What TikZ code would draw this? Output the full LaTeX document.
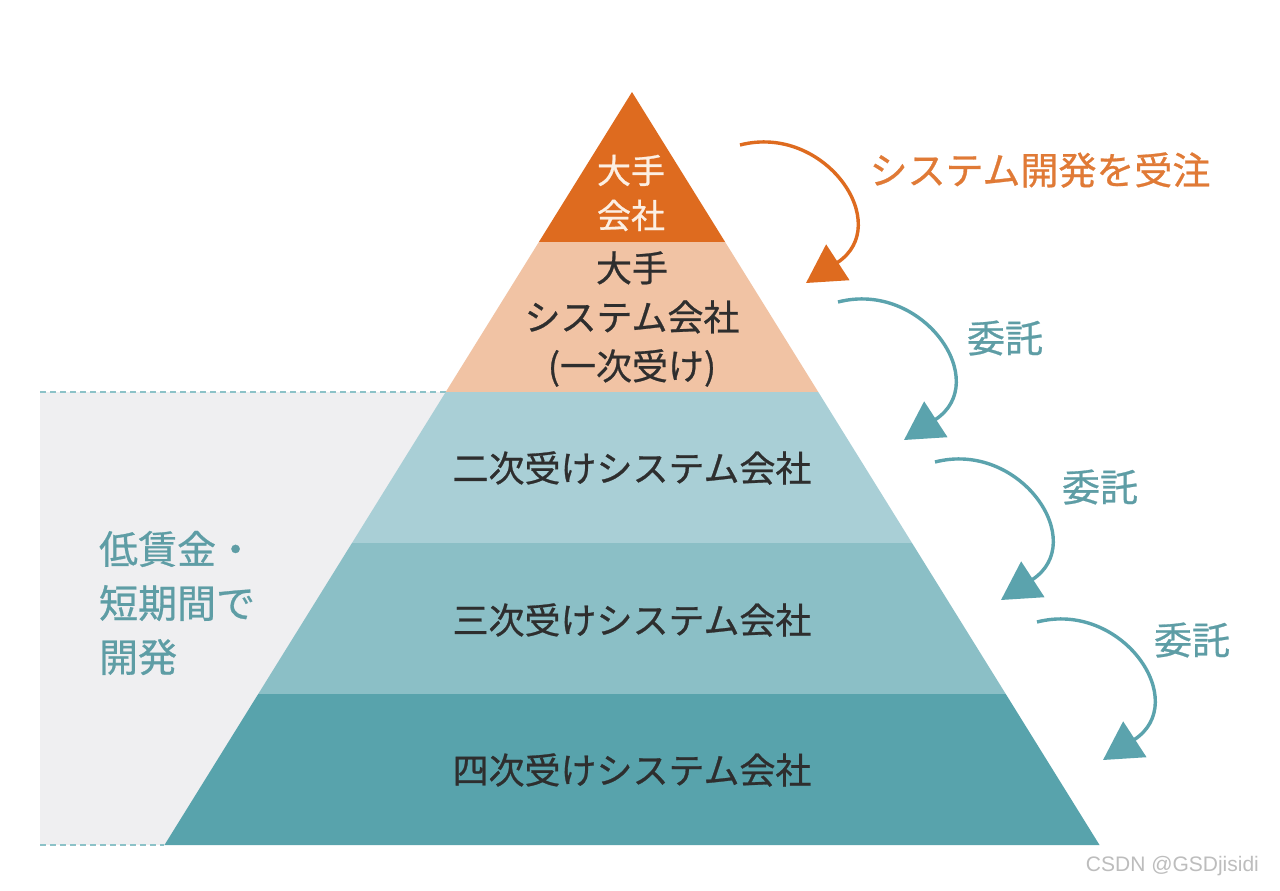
\documentclass[tikz,border=0pt]{standalone}
\usepackage{fontspec}
\setmainfont{Noto Sans CJK JP}[FakeBold=0.7]
\newfontfamily\latinfont{Liberation Sans}
\usetikzlibrary{calc,arrows.meta}
\definecolor{topcorp}{HTML}{DE6B1F}
\definecolor{ordertext}{HTML}{E07A36}
\definecolor{primepeach}{HTML}{F1C3A4}
\definecolor{tiertwo}{HTML}{A9CFD6}
\definecolor{tierthree}{HTML}{8BBFC6}
\definecolor{tierfour}{HTML}{58A3AC}
\definecolor{handteal}{HTML}{5BA3AD}
\definecolor{labelteal}{HTML}{5E9DA5}
\definecolor{panelgrey}{HTML}{EFEFF1}
\definecolor{dotteal}{HTML}{8CC2C8}
\definecolor{inktext}{HTML}{2E2E2E}
\definecolor{topink}{HTML}{FCEFE3}
\definecolor{markgrey}{HTML}{BDBDBD}

\begin{document}
\begin{tikzpicture}[x=0.5pt,y=-0.5pt,
  handoff/.style={line width=1.7pt,-{Triangle[length=19pt,width=21pt]}},
  tierlabel/.style={text=inktext,font=\fontsize{18}{24.5}\selectfont,align=center},
  sidelabel/.style={text=labelteal,font=\fontsize{19}{22}\selectfont}]
  \useasboundingbox (0,0) rectangle (1280,890);
  \fill[white] (0,0) rectangle (1280,890);
  % corner points of the pyramid, one pair per layer border
  \foreach \y [count=\i] in {92,242,392,543,694,845} {
    \coordinate (l\i) at ({632-(\y-92)*0.6209},\y);
    \coordinate (r\i) at ({632+(\y-92)*0.6209},\y);
  }
  % grey band behind the lower three layers
  \fill[panelgrey] (40,392) rectangle (632,845);
  \coordinate (p1) at (40,392); \coordinate (p2) at (40,845);
  \draw[dotteal,line width=1pt,dash pattern=on 3pt off 2pt] (p1) -- (l3) (p2) -- (l6);
  % the layers, top to bottom
  \fill[topcorp] (l1) -- (l2) -- (r2) -- cycle;
  \fill[primepeach] (l2) -- (l3) -- (r3) -- (r2) -- cycle;
  \fill[tiertwo] (l3) -- (l4) -- (r4) -- (r3) -- cycle;
  \fill[tierthree] (l4) -- (l5) -- (r5) -- (r4) -- cycle;
  \fill[tierfour] (l5) -- (l6) -- (r6) -- (r5) -- cycle;
  \node[align=center,text=topink,font=\fontsize{17}{22.5}\selectfont] (major) at (631,193) {大手\\会社};
  \node[tierlabel] (prime) at (632,319) {大手\\システム会社\\(一次受け)};
  \node[tierlabel] (second) at (632,468) {二次受けシステム会社};
  \node[tierlabel] (third) at (632,620) {三次受けシステム会社};
  \node[tierlabel] (fourth) at (632,770) {四次受けシステム会社};
  % hand-off arrows down the right side
  \foreach \n/\x/\y/\c in {1/740/145/topcorp,2/838/302/handteal,3/935/462/handteal,4/1037/622/handteal} {
    \coordinate (s\n) at (\x,\y);
    \coordinate (t\n) at ($(s\n)+(66,138)$);
    \draw[handoff,\c] (s\n) .. controls ($(s\n)+(85,-22)$) and ($(s\n)+(155,80)$) .. (t\n);
  }
  \node[sidelabel,text=ordertext] (order) at (1040,170) {システム開発を受注};
  \node[sidelabel] (pass1) at (1005,338) {委託};
  \node[sidelabel] (pass2) at (1100,487) {委託};
  \node[sidelabel] (pass3) at (1192,640) {委託};
  \node[anchor=west,align=left,text=labelteal,font=\fontsize{19.5}{27}\selectfont] (cheap) at (92,603) {低賃金・\\短期間で\\開発};
  \node[anchor=east,text=markgrey,font=\latinfont\fontsize{10.5}{12}\selectfont] (mark) at (1266,866) {CSDN @GSDjisidi};
\end{tikzpicture}
\end{document}
